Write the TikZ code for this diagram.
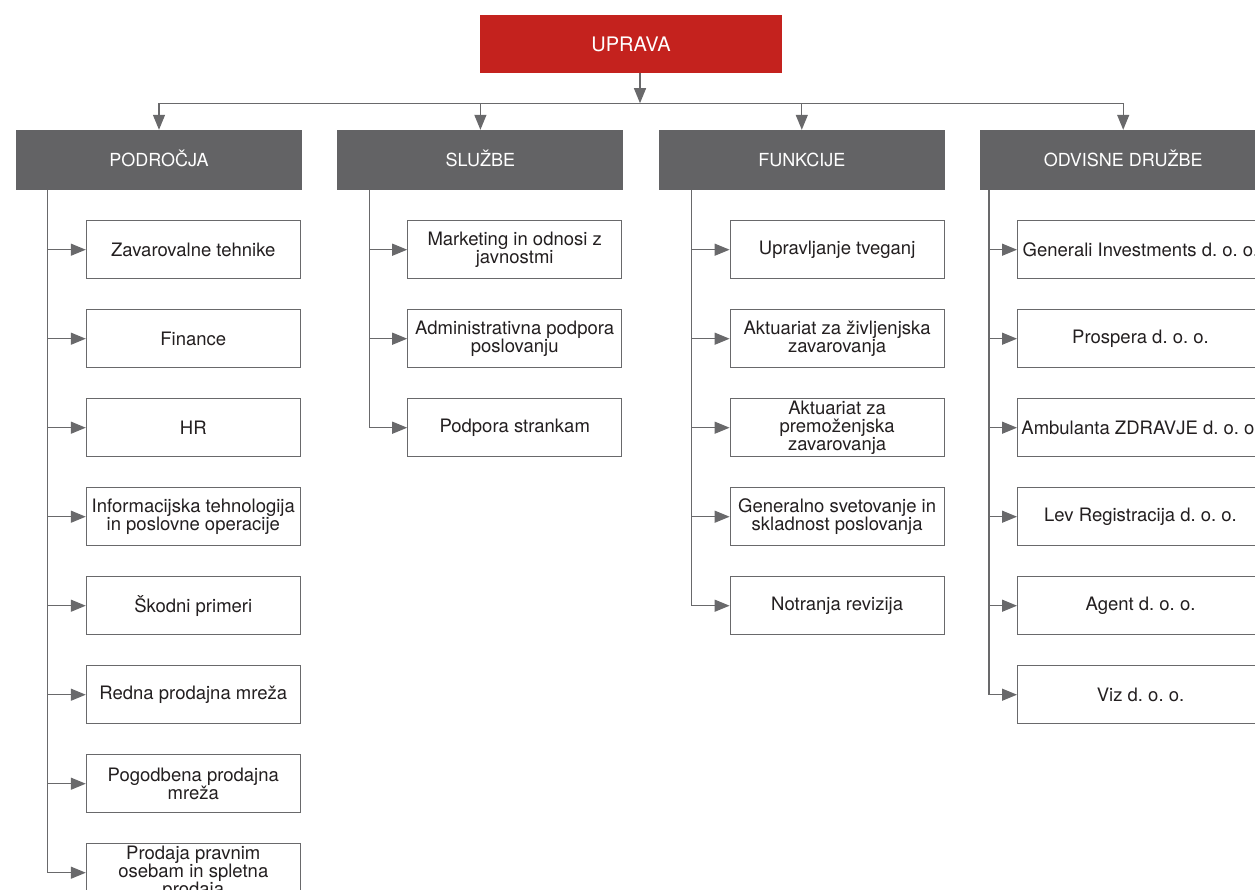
\documentclass[tikz,border=0pt]{standalone}
\usepackage{fontspec}
\setmainfont{TeX Gyre Heros}
\usetikzlibrary{arrows.meta,positioning}

\definecolor{upravared}{RGB}{196,34,30}
\definecolor{headgray}{RGB}{99,99,101}
\definecolor{linegray}{RGB}{105,105,107}
\definecolor{textdark}{RGB}{35,31,32}

\begin{document}
\begin{tikzpicture}[
  x=1pt, y=-1pt,
  node distance=30pt,
  top/.style={rectangle, fill=upravared, text=white, minimum width=302pt, minimum height=58pt, text height=14pt, text depth=0pt, font=\fontsize{20}{22}\selectfont},
  head/.style={rectangle, fill=headgray, text=white, minimum width=286pt, minimum height=60pt, text height=13pt, text depth=0pt, font=\fontsize{18}{20}\selectfont},
  unit/.style={rectangle, draw=linegray, line width=1pt, fill=white, align=center, text=textdark, minimum width=214pt, minimum height=58pt, inner sep=2pt, font=\fontsize{18.5}{18}\selectfont},
  wide/.style={unit, minimum width=246pt},
  link/.style={draw=linegray, line width=1.3pt},
  arrow/.style={link, -{Triangle[length=15pt,width=12pt]}}
]
\useasboundingbox (0,0) rectangle (1255,889);
\clip (0,0) rectangle (1255,889);

\node[top] (uprava) at (631,44) {UPRAVA};

\node[head] (podrocja) at (159,160) {PODROČJA};
\node[head, right=35pt of podrocja] (sluzbe) {SLUŽBE};
\node[head, right=35pt of sluzbe] (funkcije) {FUNKCIJE};
\node[head, right=35pt of funkcije] (odvisne) {ODVISNE DRUŽBE};

\node[unit, below right=30pt and 70pt of podrocja.south west] (zavtehnike) {Zavarovalne tehnike};
\node[unit, below=of zavtehnike] (finance) {Finance};
\node[unit, below=of finance] (hr) {HR};
\node[unit, below=of hr] (infotech) {Informacijska tehnologija\\in poslovne operacije};
\node[unit, below=of infotech] (skode) {Škodni primeri};
\node[unit, below=of skode] (redna) {Redna prodajna mreža};
\node[unit, below=of redna] (pogodbena) {Pogodbena prodajna\\mreža};
\node[unit, below=of pogodbena] (pravne) {Prodaja pravnim\\osebam in spletna\\prodaja};

\node[unit, below right=30pt and 70pt of sluzbe.south west] (marketing) {Marketing in odnosi z\\javnostmi};
\node[unit, below=of marketing] (admin) {Administrativna podpora\\poslovanju};
\node[unit, below=of admin] (stranke) {Podpora strankam};

\node[unit, below right=30pt and 71pt of funkcije.south west] (tveganja) {Upravljanje tveganj};
\node[unit, below=of tveganja] (aktzivljenje) {Aktuariat za življenjska\\zavarovanja};
\node[unit, below=of aktzivljenje] (aktpremozenje) {Aktuariat za\\premoženjska\\zavarovanja};
\node[unit, below=of aktpremozenje] (skladnost) {Generalno svetovanje in\\skladnost poslovanja};
\node[unit, below=of skladnost] (revizija) {Notranja revizija};

\node[wide, below right=30pt and 37pt of odvisne.south west] (investments) {Generali Investments d.\ o.\ o.};
\node[wide, below=of investments] (prospera) {Prospera d.\ o.\ o.};
\node[wide, below=of prospera] (ambulanta) {Ambulanta ZDRAVJE d.\ o.\ o.};
\node[wide, below=of ambulanta] (lev) {Lev Registracija d.\ o.\ o.};
\node[wide, below=of lev] (agent) {Agent d.\ o.\ o.};
\node[wide, below=of agent] (viz) {Viz d.\ o.\ o.};

\coordinate (hub) at ([xshift=9pt, yshift=-30pt]uprava.south);
\draw[arrow] (uprava.south -| hub) -- (hub);
\draw[link] (hub -| podrocja.north) -- (hub -| odvisne.north);
\draw[arrow] (hub -| podrocja.north) -- (podrocja.north);
\draw[arrow] (hub -| sluzbe.north) -- (sluzbe.north);
\draw[arrow] (hub -| funkcije.north) -- (funkcije.north);
\draw[arrow] (hub -| odvisne.north) -- (odvisne.north);

\coordinate[right=32pt of podrocja.south west] (trunkp);
\draw[arrow] (trunkp) |- (pravne);
\draw[arrow] (trunkp |- zavtehnike) -- (zavtehnike);
\draw[arrow] (trunkp |- finance) -- (finance);
\draw[arrow] (trunkp |- hr) -- (hr);
\draw[arrow] (trunkp |- infotech) -- (infotech);
\draw[arrow] (trunkp |- skode) -- (skode);
\draw[arrow] (trunkp |- redna) -- (redna);
\draw[arrow] (trunkp |- pogodbena) -- (pogodbena);

\coordinate[right=32pt of sluzbe.south west] (trunks);
\draw[arrow] (trunks) |- (stranke);
\draw[arrow] (trunks |- marketing) -- (marketing);
\draw[arrow] (trunks |- admin) -- (admin);

\coordinate[right=33pt of funkcije.south west] (trunkf);
\draw[arrow] (trunkf) |- (revizija);
\draw[arrow] (trunkf |- tveganja) -- (tveganja);
\draw[arrow] (trunkf |- aktzivljenje) -- (aktzivljenje);
\draw[arrow] (trunkf |- aktpremozenje) -- (aktpremozenje);
\draw[arrow] (trunkf |- skladnost) -- (skladnost);

\coordinate[right=9pt of odvisne.south west] (trunko);
\draw[arrow] (trunko) |- (viz);
\draw[arrow] (trunko |- investments) -- (investments);
\draw[arrow] (trunko |- prospera) -- (prospera);
\draw[arrow] (trunko |- ambulanta) -- (ambulanta);
\draw[arrow] (trunko |- lev) -- (lev);
\draw[arrow] (trunko |- agent) -- (agent);

\end{tikzpicture}
\end{document}
